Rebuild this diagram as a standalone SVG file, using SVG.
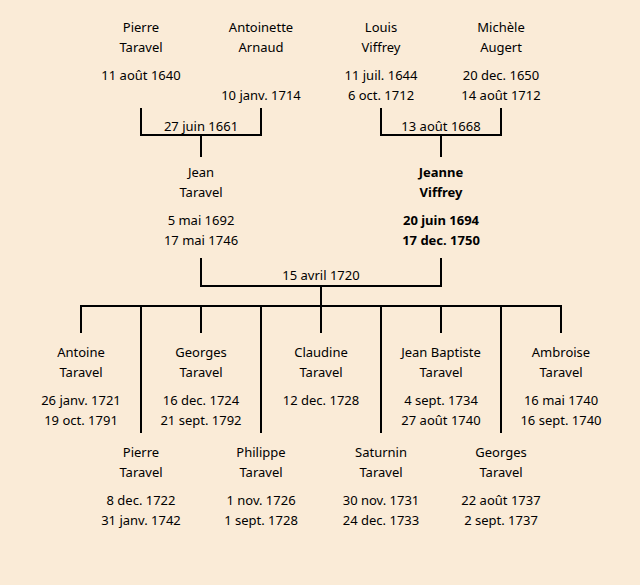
<svg xmlns="http://www.w3.org/2000/svg" width="640" height="585" viewBox="0 0 640 585">
<style>
text{font-family:"Noto Sans","Liberation Sans",sans-serif;font-size:13px;fill:#000;text-anchor:middle}
.b{font-weight:bold}
.ln{stroke:#000;stroke-width:2;fill:none;stroke-linecap:square}
</style>
<rect width="640" height="585" fill="#FAEBD7"/>
<g id="connectors" class="ln">
<path d="M141,109V135H261V109M201,135V156"/>
<path d="M381,109V135H501V109M441,135V156"/>
<path d="M201,259V286H441V259M321,286V306"/>
<path d="M81,306H561"/>
<path d="M81,306V332M201,306V332M321,306V332M441,306V332M561,306V332"/>
<path d="M141,306V432M261,306V432M381,306V432M501,306V432"/>
</g>
<g id="pierre-taravel"><text x="141" y="32">Pierre</text><text x="141" y="52">Taravel</text><text x="141" y="80">11 août 1640</text></g>
<g id="antoinette-arnaud"><text x="261" y="32">Antoinette</text><text x="261" y="52">Arnaud</text><text x="261" y="100">10 janv. 1714</text></g>
<g id="louis-viffrey"><text x="381" y="32">Louis</text><text x="381" y="52">Viffrey</text><text x="381" y="80">11 juil. 1644</text><text x="381" y="100">6 oct. 1712</text></g>
<g id="michele-augert"><text x="501" y="32">Michèle</text><text x="501" y="52">Augert</text><text x="501" y="80">20 dec. 1650</text><text x="501" y="100">14 août 1712</text></g>
<g id="marriage1"><text x="201" y="131">27 juin 1661</text></g>
<g id="marriage2"><text x="441" y="131">13 août 1668</text></g>
<g id="jean-taravel"><text x="201" y="177">Jean</text><text x="201" y="197">Taravel</text><text x="201" y="225">5 mai 1692</text><text x="201" y="245">17 mai 1746</text></g>
<g id="jeanne-viffrey" class="b"><text class="b" x="441" y="177">Jeanne</text><text class="b" x="441" y="197">Viffrey</text><text class="b" x="441" y="225">20 juin 1694</text><text class="b" x="441" y="245">17 dec. 1750</text></g>
<g id="marriage3"><text x="321" y="280">15 avril 1720</text></g>
<g id="antoine"><text x="81" y="357">Antoine</text><text x="81" y="377">Taravel</text><text x="81" y="405">26 janv. 1721</text><text x="81" y="425">19 oct. 1791</text></g>
<g id="georges1"><text x="201" y="357">Georges</text><text x="201" y="377">Taravel</text><text x="201" y="405">16 dec. 1724</text><text x="201" y="425">21 sept. 1792</text></g>
<g id="claudine"><text x="321" y="357">Claudine</text><text x="321" y="377">Taravel</text><text x="321" y="405">12 dec. 1728</text></g>
<g id="jean-baptiste"><text x="441" y="357">Jean Baptiste</text><text x="441" y="377">Taravel</text><text x="441" y="405">4 sept. 1734</text><text x="441" y="425">27 août 1740</text></g>
<g id="ambroise"><text x="561" y="357">Ambroise</text><text x="561" y="377">Taravel</text><text x="561" y="405">16 mai 1740</text><text x="561" y="425">16 sept. 1740</text></g>
<g id="pierre2"><text x="141" y="457">Pierre</text><text x="141" y="477">Taravel</text><text x="141" y="505">8 dec. 1722</text><text x="141" y="525">31 janv. 1742</text></g>
<g id="philippe"><text x="261" y="457">Philippe</text><text x="261" y="477">Taravel</text><text x="261" y="505">1 nov. 1726</text><text x="261" y="525">1 sept. 1728</text></g>
<g id="saturnin"><text x="381" y="457">Saturnin</text><text x="381" y="477">Taravel</text><text x="381" y="505">30 nov. 1731</text><text x="381" y="525">24 dec. 1733</text></g>
<g id="georges2"><text x="501" y="457">Georges</text><text x="501" y="477">Taravel</text><text x="501" y="505">22 août 1737</text><text x="501" y="525">2 sept. 1737</text></g>
</svg>
